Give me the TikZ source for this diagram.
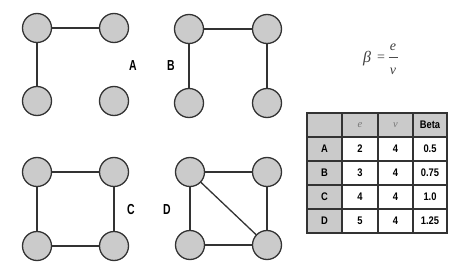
\documentclass[tikz,border=0pt]{standalone}
\usepackage{fontspec}
\setmainfont{Liberation Sans}
\newfontfamily\seriffont{Liberation Serif}
\definecolor{nodegray}{HTML}{CBCBCB}
\definecolor{edgegray}{HTML}{333333}
\definecolor{cellgray}{HTML}{CACACA}
\definecolor{hdrtext}{HTML}{777777}
\begin{document}
\begin{tikzpicture}[x=1pt,y=-1pt,
  vert/.style={circle,draw=edgegray,fill=nodegray,line width=1.3pt,minimum size=29pt,inner sep=0pt},
  edge/.style={draw=edgegray,line width=1.3pt},
  glabel/.style={font=\fontsize{14.5}{14.5}\selectfont\bfseries,xscale=0.72,inner sep=0pt},
  cell/.style={font=\fontsize{11}{11}\selectfont\bfseries,xscale=0.85,inner sep=0pt},
  hcell/.style={font=\fontsize{10.5}{10.5}\selectfont\seriffont\itshape,text=hdrtext,inner sep=0pt},
  grid/.style={draw=edgegray,line width=1.2pt},
  form/.style={font=\fontsize{14}{14}\selectfont\seriffont,text=black!75,inner sep=0pt}]
\useasboundingbox (0,0) rectangle (458,273);
% Graph A
\node[vert] (a1) at (37,28) {};
\node[vert] (a2) at (114,28) {};
\node[vert] (a3) at (37,101) {};
\node[vert] (a4) at (114,101) {};
\draw[edge] (a1) -- (a2);
\draw[edge] (a1) -- (a3);
\node[glabel] (la) at (133,65.5) {A};
% Graph B
\node[vert] (b1) at (189,29) {};
\node[vert] (b2) at (267,29) {};
\node[vert] (b3) at (189,103) {};
\node[vert] (b4) at (267,103) {};
\draw[edge] (b1) -- (b2);
\draw[edge] (b1) -- (b3);
\draw[edge] (b2) -- (b4);
\node[glabel] (lb) at (171,65.5) {B};
% Graph C
\node[vert] (c1) at (37,172) {};
\node[vert] (c2) at (114,172) {};
\node[vert] (c3) at (37,246) {};
\node[vert] (c4) at (114,246) {};
\draw[edge] (c1) -- (c2);
\draw[edge] (c1) -- (c3);
\draw[edge] (c2) -- (c4);
\draw[edge] (c3) -- (c4);
\node[glabel] (lc) at (131,210) {C};
% Graph D
\node[vert] (d1) at (190,172) {};
\node[vert] (d2) at (267,172) {};
\node[vert] (d3) at (190,245) {};
\node[vert] (d4) at (267,245) {};
\draw[edge] (d1) -- (d2);
\draw[edge] (d1) -- (d3);
\draw[edge] (d2) -- (d4);
\draw[edge] (d3) -- (d4);
\draw[edge] (d1) -- (d4);
\node[glabel] (ld) at (167,210) {D};
% Formula
\node[form,font=\fontsize{16}{16}\selectfont\seriffont\itshape] (beta) at (367,59) {β};
\node[form] (eq) at (381,58) {=};
\node[form,font=\fontsize{14}{14}\selectfont\seriffont\itshape] (fe) at (393,47) {e};
\node[form,font=\fontsize{14}{14}\selectfont\seriffont\itshape] (fv) at (393,71) {v};
\coordinate (bl) at (388.5,57);
\coordinate (br) at (398,57);
\draw[black!70,line width=0.7pt] (bl) -- (br);
% Table
\fill[cellgray] (307,113) rectangle (447,137);
\fill[cellgray] (307,137) rectangle (342,233);
\draw[grid] (307,113) rectangle (447,233);
\foreach \yy in {137,161,185,209} \draw[grid] (307,\yy) -- (447,\yy);
\foreach \xx in {342,378,413} \draw[grid] (\xx,113) -- (\xx,233);
\node[hcell] (he) at (360,125) {e};
\node[hcell] (hv) at (395.5,125) {v};
\node[cell] (hb) at (430,125) {Beta};
\node[cell] (rA) at (324.5,149) {A};
\node[cell] (rB) at (324.5,173) {B};
\node[cell] (rC) at (324.5,197) {C};
\node[cell] (rD) at (324.5,221) {D};
\node[cell] (eA) at (360,149) {2};
\node[cell] (eB) at (360,173) {3};
\node[cell] (eC) at (360,197) {4};
\node[cell] (eD) at (360,221) {5};
\node[cell] (vA) at (395.5,149) {4};
\node[cell] (vB) at (395.5,173) {4};
\node[cell] (vC) at (395.5,197) {4};
\node[cell] (vD) at (395.5,221) {4};
\node[cell] (bA) at (430,149) {0.5};
\node[cell] (bB) at (430,173) {0.75};
\node[cell] (bC) at (430,197) {1.0};
\node[cell] (bD) at (430,221) {1.25};
\end{tikzpicture}
\end{document}
